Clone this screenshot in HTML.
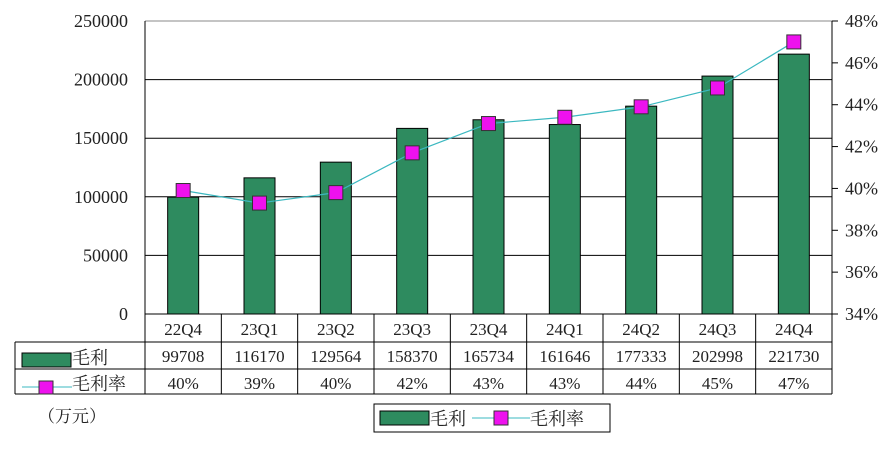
<!DOCTYPE html>
<html><head><meta charset="utf-8"><style>
body{margin:0;background:#fff;}
svg text{font-family:"Liberation Serif","Noto Serif CJK SC",serif;fill:#222;}
</style></head><body>
<svg width="894" height="444" viewBox="0 0 894 444" id="chart">
</svg>
<script>
const categories=["22Q4","23Q1","23Q2","23Q3","23Q4","24Q1","24Q2","24Q3","24Q4"];
const profit=[99708,116170,129564,158370,165734,161646,177333,202998,221730];
const rate=[39.9,39.3,39.8,41.7,43.1,43.4,43.9,44.8,47.0];
const rateLabels=["40%","39%","40%","42%","43%","43%","44%","45%","47%"];
const leftTicks=[0,50000,100000,150000,200000,250000];
const rightTicks=[34,36,38,40,42,44,46,48];

const svg=document.getElementById('chart');
const NS='http://www.w3.org/2000/svg';
const L=145,R=832,T=21,B=314;
const yL=v=>B-(v/250000)*(B-T);
const yR=v=>B-((v-34)/14)*(B-T);
const bw=(R-L)/categories.length;
const xC=i=>L+bw*(i+0.5);
function mk(tag,attrs,txt){const e=document.createElementNS(NS,tag);for(const k in attrs)e.setAttribute(k,attrs[k]);if(txt!==undefined)e.textContent=txt;svg.appendChild(e);return e;}

leftTicks.forEach(v=>{
  const g=mk('line',{x1:L,x2:R,y1:yL(v),y2:yL(v),stroke:v===250000?'#888':'#000','stroke-width':1});
  
  
  const t=mk('text',{x:128,y:yL(v)+6,'text-anchor':'end','font-size':18},String(v));
  
  
});
mk('line',{x1:L,x2:L,y1:T,y2:B,stroke:'#000'});
mk('line',{x1:R,x2:R,y1:T,y2:B,stroke:'#000'});
rightTicks.forEach(v=>{
  const tk=mk('line',{x1:R,x2:R+6,y1:yR(v),y2:yR(v),stroke:'#000'});
  
  
  const t=mk('text',{x:845,y:yR(v)+6,'font-size':18},v+'%');
  
  
});
profit.forEach((v,i)=>{
  const r=mk('rect',{x:xC(i)-15.5,y:yL(v),width:31,height:B-yL(v),fill:'#2e8b5f',stroke:'#000','stroke-width':1});
  
  
});
const pts=rate.map((v,i)=>xC(i)+','+yR(v)).join(' ');
const pl=mk('polyline',{points:pts,fill:'none',stroke:'#3bb8c0','stroke-width':1.2});


rate.forEach((v,i)=>{
  const m=mk('rect',{x:xC(i)-7,y:yR(v)-7,width:14,height:14,fill:'#ee11ee',stroke:'#333','stroke-width':1});
  
  
});
mk('line',{x1:15,x2:R,y1:342,y2:342,stroke:'#000'});
mk('line',{x1:15,x2:R,y1:369,y2:369,stroke:'#000'});
mk('line',{x1:15,x2:R,y1:394,y2:394,stroke:'#000'});
mk('line',{x1:15,x2:15,y1:342,y2:394,stroke:'#000'});
for(let i=0;i<=categories.length;i++){mk('line',{x1:L+bw*i,x2:L+bw*i,y1:314,y2:394,stroke:'#000'});}
categories.forEach((c,i)=>{
  const a=mk('text',{x:xC(i),y:335,'text-anchor':'middle','font-size':17},c);
  
  
  const b=mk('text',{x:xC(i),y:362,'text-anchor':'middle','font-size':17},String(profit[i]));
  
  
  const d=mk('text',{x:xC(i),y:389,'text-anchor':'middle','font-size':17},rateLabels[i]);
  
  
});
mk('rect',{x:22,y:353,width:49,height:14,fill:'#2e8b5f',stroke:'#000'});
mk('text',{x:72,y:364,'font-size':18},'毛利');
mk('line',{x1:22,x2:72,y1:387,y2:387,stroke:'#3bb8c0'});
mk('rect',{x:39,y:381,width:14,height:13,fill:'#ee11ee',stroke:'#333'});
mk('text',{x:72,y:390,'font-size':18},'毛利率');
const u=mk('text',{x:38,y:422,'font-size':17},'（万元）');


const lg=mk('rect',{x:374,y:404,width:236,height:28,fill:'#fff',stroke:'#000'});


mk('rect',{x:380,y:411,width:49,height:14,fill:'#2e8b5f',stroke:'#000'});
mk('text',{x:430,y:425,'font-size':18},'毛利');
mk('line',{x1:472,x2:530,y1:418,y2:418,stroke:'#3bb8c0'});
mk('rect',{x:494,y:411,width:14,height:14,fill:'#ee11ee',stroke:'#333'});
mk('text',{x:530,y:425,'font-size':18},'毛利率');
</script>
</body></html>
